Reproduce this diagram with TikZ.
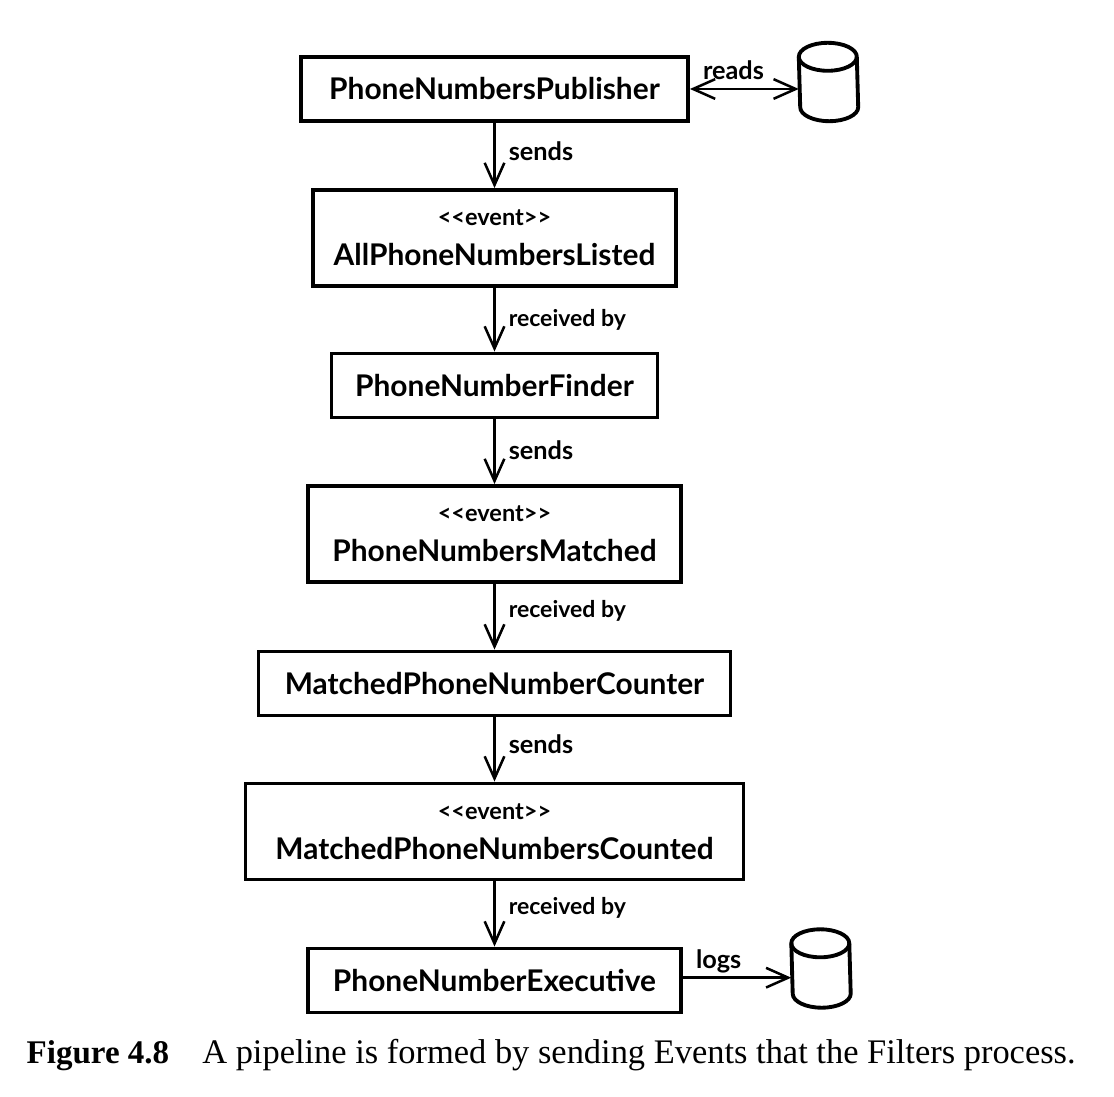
\documentclass[tikz,border=0pt]{standalone}
\usepackage{fontspec}
\setmainfont{Liberation Serif}
\newfontfamily\sketchfont{Lato}
\usetikzlibrary{arrows.meta}
\newcommand{\eventtag}{{\fontsize{6.7}{8}\selectfont <{}<event>{}>}}
\tikzset{
  >={Straight Barb[length=6.3pt,width=5.6pt]},
  filter/.style={draw,line width=1.1pt,minimum height=6.4mm,inner sep=0pt,
    font=\sketchfont\fontsize{8.5}{10}\selectfont\bfseries},
  event/.style={filter,minimum height=9.6mm,align=center},
  store/.style={minimum width=5.8mm,minimum height=7.7mm,inner sep=0pt},
  flow/.style={line width=0.72pt},
  flowlabel/.style={font=\sketchfont\fontsize{7.2}{8}\selectfont\bfseries,inner sep=0pt},
  longlabel/.style={font=\sketchfont\fontsize{6.55}{8}\selectfont\bfseries,inner sep=0pt},
}
\begin{document}
\begin{tikzpicture}
    \useasboundingbox (0,0) rectangle (11.14,10.96);
    \node[filter,minimum width=38.7mm] (publisher) at (4.945,10.07) {PhoneNumbersPublisher};
    \node[event,minimum width=36.3mm] (listed) at (4.945,8.58)
      {\eventtag\\[0.5mm]AllPhoneNumbersListed};
    \node[filter,minimum width=32.6mm] (finder) at (4.945,7.105) {PhoneNumberFinder};
    \node[event,minimum width=37.3mm] (matched) at (4.945,5.62)
      {\eventtag\\[0.5mm]PhoneNumbersMatched};
    \node[filter,minimum width=47.2mm] (counter) at (4.945,4.125) {MatchedPhoneNumberCounter};
    \node[event,minimum width=49.8mm] (counted) at (4.945,2.645)
      {\eventtag\\[0.5mm]MatchedPhoneNumbersCounted};
    \node[filter,minimum width=37.3mm] (executive) at (4.945,1.155) {PhoneNumberExecutive};
    \node[store] (source) at (8.285,10.14) {};
    \node[store] (sink) at (8.21,1.275) {};
    % the two data stores
    \foreach \name in {source,sink} {
      \draw[line width=1.1pt] ([yshift=-1.4mm]\name.north west)
        arc[start angle=180,end angle=0,x radius=2.9mm,y radius=1.4mm]
        -- ([yshift=1.4mm]\name.south east)
        arc[start angle=0,end angle=-180,x radius=2.9mm,y radius=1.4mm] -- cycle;
      \draw[line width=1.1pt] ([yshift=-1.4mm]\name.north west)
        arc[start angle=180,end angle=360,x radius=2.9mm,y radius=1.4mm];
    }
    \draw[flow,<->] (publisher) -- (publisher.east -| source.west)
      node[flowlabel,pos=0.4,above=0.8mm] (readslabel) {reads};
    \draw[flow,->] (publisher) -- (listed)
      node[flowlabel,pos=0.44,right=1.3mm] (sendsa) {sends};
    \draw[flow,->] (listed) -- (finder)
      node[longlabel,midway,right=1.3mm] (receiveda) {received by};
    \draw[flow,->] (finder) -- (matched)
      node[flowlabel,pos=0.48,right=1.3mm] (sendsb) {sends};
    \draw[flow,->] (matched) -- (counter)
      node[longlabel,pos=0.41,right=1.3mm] (receivedb) {received by};
    \draw[flow,->] (counter) -- (counted)
      node[flowlabel,pos=0.41,right=1.3mm] (sendsc) {sends};
    \draw[flow,->] (counted) -- (executive)
      node[longlabel,pos=0.4,right=1.3mm] (receivedc) {received by};
    \draw[flow,->] ([yshift=0.8pt]executive.east) -- ([yshift=0.8pt]executive.east -| sink.west)
      node[flowlabel,pos=0.33,above=0.35mm] (logslabel) {logs};
    \node[anchor=base west,inner sep=0pt,font=\fontsize{9.8}{12}\selectfont] (caption) at (0.26,0.33)
      {\textbf{\fontsize{9.4}{12}\selectfont Figure 4.8}\hspace{9.4pt}A pipeline is formed by sending Events that the Filters process.};
  \end{tikzpicture}
\end{document}
